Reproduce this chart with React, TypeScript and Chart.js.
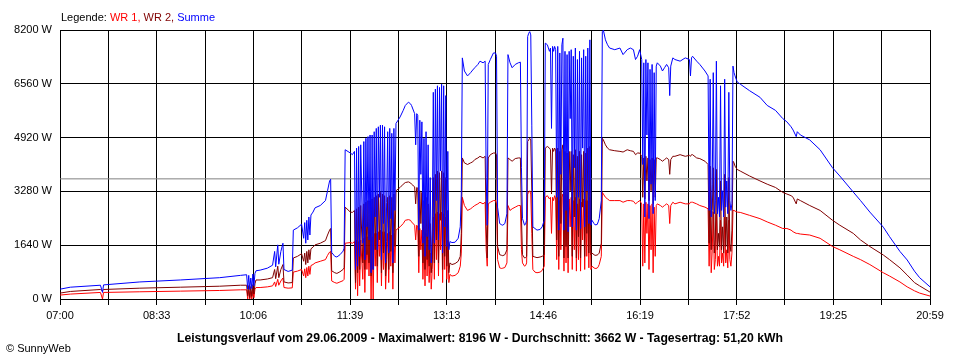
import React, { useEffect, useRef } from "react";
import { Chart, registerables } from "chart.js";

Chart.register(...registerables);

// minutes after 07:00
const minutes = [
  0, 10, 39, 41, 42, 77, 116, 154, 174, 180, 181, 182, 183, 184, 185, 186, 187, 188, 189, 193,
  200, 205, 207, 208, 210, 211, 213, 215, 216, 220, 224, 225, 229, 233, 235, 236, 237, 238, 239, 240,
  241, 242, 244, 246, 251, 256, 258, 260, 261, 262, 265, 267, 270, 273, 274, 275, 280, 282, 284, 285,
  286, 287, 288, 289, 290, 292, 293, 294, 295, 296, 297, 298, 299, 300, 301, 302, 303, 304, 305, 306,
  307, 308, 309, 310, 311, 312, 313, 314, 315, 316, 317, 318, 319, 320, 321, 322, 323, 324, 326, 328,
  331, 333, 336, 338, 339, 342, 343, 344, 345, 346, 347, 348, 349, 350, 351, 352, 353, 354, 355, 356,
  357, 358, 359, 360, 361, 362, 363, 364, 365, 366, 367, 368, 369, 370, 371, 372, 373, 374, 375, 376,
  378, 381, 384, 386, 387, 388, 390, 393, 396, 398, 400, 403, 405, 408, 410, 411, 412, 413, 415, 418,
  420, 421, 422, 424, 426, 427, 429, 431, 432, 434, 436, 439, 442, 444, 445, 446, 448, 449, 450, 451,
  452, 453, 454, 455, 456, 458, 460, 463, 465, 467, 468, 470, 472, 473, 474, 475, 476, 477, 478, 479,
  480, 481, 482, 483, 484, 485, 486, 487, 488, 489, 490, 491, 492, 493, 494, 495, 496, 497, 498, 499,
  500, 501, 502, 503, 504, 505, 506, 507, 508, 509, 510, 511, 512, 513, 515, 516, 518, 519, 520, 522,
  523, 524, 526, 528, 530, 535, 540, 543, 547, 550, 553, 555, 557, 559, 561, 562, 563, 564, 565, 566,
  567, 568, 569, 570, 571, 572, 573, 574, 575, 576, 579, 581, 583, 585, 587, 588, 589, 591, 593, 598,
  603, 607, 608, 609, 610, 614, 617, 622, 625, 626, 627, 628, 629, 630, 631, 632, 633, 634, 635, 636,
  637, 638, 639, 640, 641, 642, 643, 644, 645, 646, 647, 648, 649, 650, 651, 653, 656, 665, 675, 682,
  690, 697, 701, 705, 707, 710, 711, 714, 723, 733, 745, 752, 765, 772, 781, 794, 800, 810, 817, 824,
  829, 839,
];

const wr1 = [
  120, 150, 200, 0, 200, 220, 240, 260, 280, 280, 0, 270, 0, 230, 0, 290, 40, 300, 350, 350,
  370, 400, 520, 380, 600, 420, 550, 640, 350, 330, 340, 820, 850, 900, 700, 920, 650, 960, 700, 1000,
  750, 1020, 1050, 1100, 1150, 1200, 1330, 1430, 1450, 550, 500, 480, 520, 560, 600, 1700, 1720, 1700, 1750, 300,
  1800, 100, 1750, 400, 1800, 600, 1850, 200, 1900, 900, 1900, 700, 1950, 0, 1900, 0, 2000, 1000, 2000, 500,
  2050, 1300, 2100, 400, 2050, 900, 2050, 300, 1200, 2000, 500, 2050, 1000, 1950, 300, 2000, 1100, 2100, 2150, 2200,
  2300, 2400, 2420, 2400, 2350, 2250, 1800, 2250, 2200, 800, 2150, 1500, 2100, 600, 1900, 400, 2000, 700, 1800, 500,
  1400, 300, 900, 2500, 600, 2600, 1200, 2650, 700, 2600, 1500, 2650, 500, 2600, 900, 2500, 600, 1800, 500, 750,
  700, 720, 800, 1000, 1400, 3100, 2850, 2700, 2750, 2800, 2850, 2900, 2950, 2900, 2950, 1500, 1000, 2900, 2950, 3000,
  3000, 2900, 1200, 950, 930, 940, 960, 1100, 2850, 2700, 2750, 2800, 2850, 2850, 1500, 1100, 1000, 1020, 1100, 3200,
  3250, 3300, 3200, 2000, 900, 820, 800, 820, 870, 1000, 3100, 3150, 3050, 3100, 2000, 3100, 3000, 3150, 3050, 1200,
  3100, 900, 3000, 1500, 3100, 3200, 850, 3050, 1100, 3000, 800, 3050, 2200, 3100, 900, 3000, 1500, 3100, 850, 2900,
  1200, 3050, 850, 2950, 1800, 3050, 900, 3000, 1300, 3000, 950, 3100, 900, 1000, 950, 930, 940, 980, 1050, 1300,
  3250, 3200, 3100, 3050, 3000, 3000, 3000, 2950, 3000, 3000, 2980, 2900, 2950, 3000, 2900, 1000, 2900, 1100, 2950, 2000,
  2900, 900, 2850, 1500, 2900, 800, 2800, 1300, 2850, 2900, 2850, 2800, 2850, 2900, 2850, 2300, 2850, 2950, 2900, 2950,
  2900, 2900, 2950, 2950, 2950, 2900, 2850, 2800, 2750, 1000, 2700, 800, 1500, 2650, 900, 1200, 2600, 1000, 1300, 1000,
  2400, 1100, 1400, 1000, 2500, 1100, 1500, 950, 2400, 1200, 1000, 1400, 2700, 2700, 2680, 2650, 2640, 2550, 2450, 2350,
  2250, 2150, 2150, 2100, 2050, 2000, 2000, 1980, 1950, 1850, 1600, 1500, 1300, 1200, 1050, 800, 700, 520, 370, 250,
  180, 90,
];

const wr2 = [
  180, 230, 290, 250, 290, 330, 360, 390, 420, 420, 100, 410, 40, 380, 80, 440, 150, 460, 580, 580,
  610, 650, 900, 620, 1000, 650, 900, 1050, 520, 490, 500, 1250, 1300, 1380, 1150, 1400, 1050, 1450, 1100, 1500,
  1200, 1530, 1580, 1650, 1700, 1780, 1950, 2100, 2150, 860, 800, 780, 830, 900, 950, 2800, 2650, 2640, 2700, 500,
  2750, 800, 2800, 900, 2850, 1100, 2900, 900, 2950, 1350, 3000, 1100, 3000, 700, 3050, 900, 3100, 1500, 3150, 1000,
  3200, 1800, 3250, 800, 3200, 1400, 3150, 700, 1750, 3100, 900, 3150, 1450, 3100, 800, 3200, 1600, 3300, 3350, 3400,
  3500, 3550, 3570, 3540, 3500, 3420, 2900, 3400, 3380, 1300, 3300, 2300, 3250, 1100, 3000, 900, 3100, 1200, 2900, 1000,
  2300, 800, 1200, 3700, 1100, 3800, 1800, 3900, 1100, 3850, 2400, 3900, 900, 3850, 1300, 3700, 1000, 2700, 800, 1100,
  1050, 1080, 1150, 1300, 2000, 4300, 4150, 4100, 4150, 4180, 4250, 4300, 4350, 4300, 4350, 2200, 1250, 4300, 4400, 4450,
  4450, 4400, 1600, 1350, 1330, 1320, 1350, 1500, 4300, 4250, 4200, 4280, 4300, 4300, 2500, 1350, 1250, 1260, 1300, 4800,
  4850, 4900, 4850, 3300, 1300, 1280, 1260, 1280, 1300, 1350, 4600, 4650, 4600, 4550, 3200, 4600, 4500, 4600, 4550, 1800,
  4600, 1300, 4500, 2300, 4550, 4700, 1250, 4500, 1600, 4450, 1250, 4500, 3300, 4500, 1300, 4400, 2500, 4550, 1250, 4350,
  1900, 4500, 1250, 4400, 2800, 4500, 1300, 4450, 2000, 4600, 1400, 4650, 1350, 1400, 1350, 1330, 1340, 1360, 1400, 1700,
  4900, 4850, 4700, 4600, 4550, 4520, 4500, 4480, 4550, 4520, 4500, 4400, 4450, 4450, 4350, 3100, 4300, 3050, 4350, 3600,
  4300, 3000, 4250, 3300, 4300, 2900, 4250, 3100, 4300, 4300, 4250, 4200, 4250, 4300, 4250, 3800, 4250, 4350, 4350, 4400,
  4350, 4380, 4350, 4400, 4400, 4300, 4280, 4200, 4100, 1700, 4050, 1500, 2700, 4000, 1400, 1800, 3950, 1500, 2000, 1600,
  3600, 1500, 2200, 1400, 3800, 1600, 2500, 1400, 3700, 1700, 1450, 2100, 4200, 4150, 4050, 3950, 3900, 3750, 3600, 3500,
  3400, 3250, 3200, 3150, 3100, 2900, 3050, 3000, 2850, 2700, 2400, 2250, 2000, 1800, 1600, 1340, 1200, 950, 730, 500,
  400, 210,
];

const summe = [
  300, 360, 420, 200, 430, 520, 580, 650, 720, 740, 300, 720, 290, 640, 320, 760, 400, 780, 860, 880,
  940, 1030, 1450, 980, 1650, 1060, 1450, 1700, 900, 840, 880, 2100, 2170, 2280, 1850, 2330, 1700, 2400, 1800, 2500,
  1950, 2560, 2650, 2780, 2850, 3000, 3300, 3600, 3650, 1420, 1300, 1280, 1350, 1460, 1550, 4550, 4450, 4400, 4500, 900,
  4600, 1000, 4650, 1300, 4700, 1700, 4800, 1200, 4900, 2200, 4950, 1800, 5000, 800, 5000, 900, 5100, 2500, 5200, 1500,
  5250, 3100, 5300, 1200, 5300, 2300, 5250, 1100, 2950, 5100, 1400, 5200, 2450, 5050, 1100, 5200, 2700, 5350, 5450, 5550,
  5750, 5900, 6000, 5950, 5900, 5650, 4700, 5650, 5600, 2100, 5450, 3800, 5400, 1700, 4900, 1300, 5100, 1900, 4700, 1500,
  3700, 1100, 2100, 6300, 1700, 6400, 3000, 6500, 1800, 6450, 3900, 6550, 1400, 6500, 2200, 6200, 1600, 4500, 1500, 1750,
  1720, 1730, 1850, 2200, 3200, 7350, 6950, 6800, 6900, 6980, 7050, 7150, 7250, 7200, 7250, 3700, 2250, 7150, 7300, 7500,
  7500, 7400, 2800, 2300, 2260, 2250, 2300, 2600, 7450, 7200, 7050, 7150, 7200, 7220, 4000, 2450, 2250, 2280, 2400, 8000,
  8100, 8150, 8050, 5300, 2200, 2150, 2100, 2120, 2200, 2400, 7800, 7750, 7550, 7650, 5200, 7700, 7550, 7700, 7600, 3100,
  7700, 2100, 7500, 3800, 7750, 7950, 2100, 7550, 2700, 7450, 2050, 7550, 5500, 7600, 2200, 7400, 4000, 7650, 2100, 7300,
  3100, 7550, 2150, 7350, 4600, 7600, 2200, 7400, 3300, 7650, 2300, 7900, 2250, 2400, 2300, 2260, 2270, 2350, 2450, 3000,
  8150, 8196, 7900, 7750, 7650, 7600, 7650, 7450, 7600, 7650, 7600, 7300, 7400, 7600, 7300, 4100, 7200, 2500, 7300, 5000,
  7200, 2450, 7000, 3500, 7150, 2600, 6900, 3000, 7100, 7200, 7100, 6950, 7050, 7150, 7050, 6200, 7100, 7350, 7300, 7250,
  7350, 7300, 6800, 7350, 7400, 7250, 7150, 6950, 6800, 2700, 6700, 2500, 3500, 6900, 2600, 3000, 7250, 2600, 3100, 2500,
  6500, 2700, 3300, 2500, 6700, 2800, 3600, 2600, 6300, 3000, 2700, 2900, 7100, 6900, 6800, 6620, 6550, 6350, 6150, 5900,
  5750, 5500, 5400, 5250, 5150, 4950, 5100, 5000, 4850, 4550, 4000, 3750, 3260, 3000, 2650, 2190, 1900, 1450, 1190, 850,
  650, 370,
];

const averageW = 3662;
const xTickLabels = ["07:00", "08:33", "10:06", "11:39", "13:13", "14:46", "16:19", "17:52", "19:25", "20:59"];
const seriesNames = ["WR 1", "WR 2", "Summe"];
const seriesColors = ["#ff0000", "#800000", "#0000ff"];
const averageColor = "#808080";
const legendPrefix = "Legende: ";
const titleText =
  "Leistungsverlauf vom 29.06.2009 - Maximalwert: 8196 W - Durchschnitt: 3662 W - Tagesertrag: 51,20 kWh";
const copyrightText = "© SunnyWeb";

const X_MAX = 839;
const Y_MAX = 8200;
const Y_STEP = 1640;
const FONT = '"Liberation Sans", Arial, sans-serif';

export default function App() {
  const ref = useRef<HTMLCanvasElement>(null);

  useEffect(() => {
    if (!ref.current) return;

    const textPlugin = {
      id: "sunnyTexts",
      afterDraw(chart: any) {
        const ctx = chart.ctx as CanvasRenderingContext2D;
        ctx.save();
        ctx.font = `11px ${FONT}`;
        ctx.textAlign = "left";
        ctx.textBaseline = "alphabetic";
        const parts: [string, string][] = [[legendPrefix, "#000000"]];
        seriesNames.forEach((n, i) => {
          const sep = i < seriesNames.length - 1 ? "," : "";
          const pre = i > 0 ? " " : "";
          parts.push([pre + n + sep, seriesColors[i]]);
        });
        let x = 61;
        for (const [t, c] of parts) {
          ctx.fillStyle = c;
          ctx.fillText(t, x, 21);
          x += ctx.measureText(t).width;
        }
        ctx.fillStyle = "#000000";
        ctx.font = `bold 12.2px ${FONT}`;
        ctx.textAlign = "center";
        ctx.fillText(titleText, 480, 342);
        ctx.font = `11px ${FONT}`;
        ctx.textAlign = "left";
        ctx.fillText(copyrightText, 6, 352);
        ctx.restore();
      },
    };

    const toPoints = (vals: number[]) => minutes.map((m, i) => ({ x: m, y: vals[i] }));

    const chart = new Chart(ref.current, {
      type: "line",
      data: {
        datasets: [
          {
            label: "Durchschnitt",
            data: [
              { x: 0, y: averageW },
              { x: X_MAX, y: averageW },
            ],
            borderColor: averageColor,
            order: 3,
          },
          { label: seriesNames[0], data: toPoints(wr1), borderColor: seriesColors[0], order: 2 },
          { label: seriesNames[1], data: toPoints(wr2), borderColor: seriesColors[1], order: 1 },
          { label: seriesNames[2], data: toPoints(summe), borderColor: seriesColors[2], order: 0 },
        ],
      },
      options: {
        responsive: false,
        animation: false,
        devicePixelRatio: 1,
        layout: { padding: { left: 0, right: 30, top: 30, bottom: 0 } },
        elements: {
          point: { radius: 0, hoverRadius: 0 },
          line: { borderWidth: 1, tension: 0, fill: false },
        },
        plugins: {
          legend: { display: false },
          tooltip: { enabled: false },
          title: { display: false },
        },
        scales: {
          x: {
            type: "linear",
            min: 0,
            max: X_MAX,
            afterBuildTicks: (s: any) => {
              s.ticks = Array.from({ length: 19 }, (_, i) => ({ value: (i * X_MAX) / 18 }));
            },
            afterFit: (s: any) => {
              s.height = 61;
            },
            ticks: {
              autoSkip: false,
              maxRotation: 0,
              minRotation: 0,
              padding: 4,
              color: "#000000",
              font: { family: FONT, size: 11 },
              callback: (_v: any, i: number) => (i % 2 === 0 ? xTickLabels[i / 2] : ""),
            },
            grid: { color: "#000000", lineWidth: 1, drawTicks: true, tickLength: 6, tickColor: "#000000" },
            border: { color: "#000000", width: 1 },
          },
          y: {
            min: 0,
            max: Y_MAX,
            afterFit: (s: any) => {
              s.width = 60;
            },
            ticks: {
              stepSize: Y_STEP,
              padding: 8,
              color: "#000000",
              font: { family: FONT, size: 11 },
              callback: (v: any) => `${v} W`,
            },
            grid: { color: "#000000", lineWidth: 1, drawTicks: false },
            border: { color: "#000000", width: 1 },
          },
        },
      },
      plugins: [textPlugin],
    } as any);

    return () => chart.destroy();
  }, []);

  return (
    <div style={{ position: "fixed", left: 0, top: 0, width: 960, height: 360, background: "#ffffff" }}>
      <canvas ref={ref} width={960} height={360} style={{ display: "block", width: 960, height: 360 }} />
    </div>
  );
}
